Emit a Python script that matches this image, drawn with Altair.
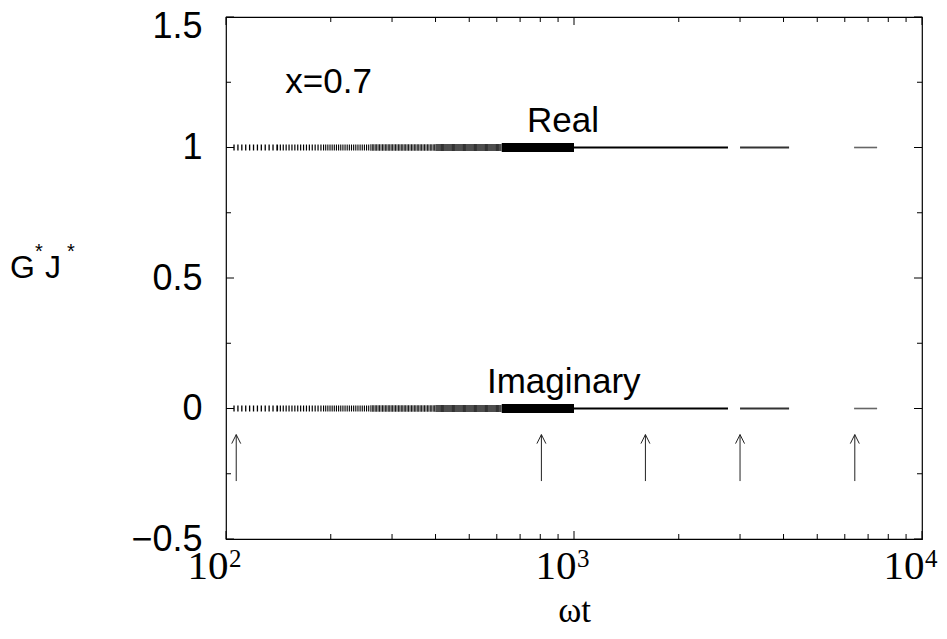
import altair as alt
import pandas as pd

# ---------------- values ----------------
# axis ticks
x_major = [100, 1000, 10000]
x_minor = [200, 300, 400, 500, 600, 700, 800, 900,
           2000, 3000, 4000, 5000, 6000, 7000, 8000, 9000]
x_exponents = ["2", "3", "4"]
y_major = [-0.5, 0, 0.5, 1, 1.5]
y_minor = [-0.25, 0.25, 0.75, 1.25]

# curve levels
series_names = ["Real", "Imaginary"]
series_levels = [1.0, 0.0]

# oscillating stretch (wiggles get denser towards t = 1000)
wave_t0 = [105, 140, 190, 260, 400, 620]
wave_t1 = [140, 190, 260, 400, 620, 1000]
# flat stretches after t = 1000
real_t0 = [1000, 3000, 6380]
real_t1 = [2770, 4150, 7430]
imag_t0 = [1000, 3000, 6380]
imag_t1 = [2770, 4150, 7430]

# arrows below the imaginary curve
arrow_t = [107, 806, 1604, 3000, 6411]
arrow_tip = -0.10
arrow_tail = -0.278

# annotations
note_text = ["x=0.7", "Real", "Imaginary"]
note_t = [148, 733, 562]
note_y = [1.209, 1.059, 0.059]

W, H = 696, 522

# ---------------- tables ----------------
rows = []
flat = {"Real": (real_t0, real_t1), "Imaginary": (imag_t0, imag_t1)}
for name, lev in zip(series_names, series_levels):
    for k, (a, b) in enumerate(zip(wave_t0, wave_t1)):
        rows.append({"series": name, "t0": a, "t1": b, "level": lev, "kind": f"w{k}"})
    f0, f1 = flat[name]
    for k, (a, b) in enumerate(zip(f0, f1)):
        rows.append({"series": name, "t0": a, "t1": b, "level": lev, "kind": f"f{k}"})
segs = pd.DataFrame(rows)

styles = {
    "w0": dict(strokeDash=[1.3, 2.6], strokeWidth=6, color="#000"),
    "w1": dict(strokeDash=[1.2, 1.7], strokeWidth=6, color="#000"),
    "w2": dict(strokeDash=[1.1, 1.05], strokeWidth=6, color="#000"),
    "w3": dict(strokeDash=[0.9, 0.55], strokeWidth=6.5, color="#000"),
    "w4": dict(strokeDash=[0.8, 0.3], strokeWidth=7, color="#000"),
    "w5": dict(strokeWidth=9, color="#000"),
    "f0": dict(strokeWidth=2.2, color="#000"),
    "f1": dict(strokeWidth=1.8, color="#333"),
    "f2": dict(strokeWidth=1.6, color="#666"),
}

xscale = alt.Scale(type="log", domain=[100, 10000], nice=False)
yscale = alt.Scale(domain=[-0.5, 1.5], nice=False, zero=False)

base = alt.Chart(segs)
layers = []

# axes (labels only; ticks drawn inside below)
axis_layer = alt.Chart(pd.DataFrame({"t": [100], "v": [0.0]})).mark_point(opacity=0).encode(
    x=alt.X("t:Q", scale=xscale,
            axis=alt.Axis(values=x_major, labelExpr="'10'", ticks=False, domain=False, grid=False,
                          labelFont="Liberation Sans Narrow", labelFontSize=41, labelAlign="right",
                          labelBaseline="top", labelPadding=7, labelOffset=2, labelFlush=False,
                          labelOverlap=False, labelColor="#000",
                          title="ωt", titleFont="Liberation Serif", titleFontSize=35,
                          titleFontWeight="normal", titleColor="#000", titleY=82,
                          titleBaseline="alphabetic", titleX=W / 2)),
    y=alt.Y("v:Q", scale=yscale,
            axis=alt.Axis(values=y_major, format=".1~f", ticks=False, domain=False, grid=False,
                          labelFont="Liberation Sans", labelFontSize=36, labelPadding=24,
                          labelFlush=False, labelOverlap=False, labelColor="#000",
                          labelOffset={"condition": {"test": "datum.value == 1.5", "value": 9}, "value": 0},
                          title=None)),
)
layers.append(axis_layer)

for kind, st in styles.items():
    layers.append(
        base.transform_filter(alt.datum.kind == kind)
        .mark_rule(**st)
        .encode(x=alt.X("t0:Q", scale=xscale), x2="t1:Q", y=alt.Y("level:Q", scale=yscale))
    )

# inside ticks
xt_major = pd.DataFrame({"t": x_major})
xt_minor = pd.DataFrame({"t": x_minor})
yt_major = pd.DataFrame({"v": y_major})
yt_minor = pd.DataFrame({"v": y_minor})
for df, L in ((xt_major, 8), (xt_minor, 5)):
    layers.append(alt.Chart(df).mark_rule(color="#000", strokeWidth=1).encode(
        x=alt.X("t:Q", scale=xscale), y=alt.value(H), y2=alt.value(H - L)))
    layers.append(alt.Chart(df).mark_rule(color="#000", strokeWidth=1).encode(
        x=alt.X("t:Q", scale=xscale), y=alt.value(0), y2=alt.value(L)))
for df, L in ((yt_major, 8), (yt_minor, 5)):
    layers.append(alt.Chart(df).mark_rule(color="#000", strokeWidth=1).encode(
        y=alt.Y("v:Q", scale=yscale), x=alt.value(0), x2=alt.value(L)))
    layers.append(alt.Chart(df).mark_rule(color="#000", strokeWidth=1).encode(
        y=alt.Y("v:Q", scale=yscale), x=alt.value(W), x2=alt.value(W - L)))

# exponents of the x tick labels
exp_df = pd.DataFrame({"t": x_major, "e": x_exponents})
layers.append(alt.Chart(exp_df).mark_text(
    font="Liberation Sans Narrow", fontSize=25, align="left", baseline="alphabetic", dx=3, color="#000"
).encode(x=alt.X("t:Q", scale=xscale), y=alt.value(H + 28), text="e:N"))

# arrows
arr = pd.DataFrame({"t": arrow_t, "tip": [arrow_tip] * len(arrow_t), "tail": [arrow_tail] * len(arrow_t)})
layers.append(alt.Chart(arr).mark_rule(color="#222", strokeWidth=1).encode(
    x=alt.X("t:Q", scale=xscale), y=alt.Y("tail:Q", scale=yscale), y2="tip:Q"))
layers.append(alt.Chart(arr).mark_point(
    shape="M-1,2L0,0L1,2", filled=False, size=81, strokeWidth=1, color="#222", opacity=1
).encode(x=alt.X("t:Q", scale=xscale), y=alt.Y("tip:Q", scale=yscale)))

# annotations inside the frame
notes = pd.DataFrame({"txt": note_text, "t": note_t, "y": note_y})
layers.append(alt.Chart(notes).mark_text(
    font="Liberation Sans", fontSize=35, align="left", baseline="alphabetic", color="#000"
).encode(x=alt.X("t:Q", scale=xscale), y=alt.Y("y:Q", scale=yscale), text="txt:N"))

# y axis title G*J*
one = pd.DataFrame({"a": [0]})
for txt, px, yv, fs in (("G", -216, 0.5, 32), ("J", -181, 0.5, 32),
                        ("*", -191, 0.577, 20), ("*", -159, 0.577, 20)):
    layers.append(alt.Chart(one).mark_text(
        text=txt, font="Liberation Sans", fontSize=fs, align="left", baseline="alphabetic", color="#000"
    ).encode(x=alt.value(px), y=alt.Y(datum=yv, scale=yscale)))

chart = alt.layer(*layers).properties(
    width=W, height=H,
    autosize=alt.AutoSizeParams(type="none"),
    padding={"left": 218, "top": 9, "right": 17, "bottom": 92},
    background="white",
).configure_view(stroke="#000", strokeWidth=1.2)

chart.save("out.html", embed_options={"renderer": "svg", "actions": False})
